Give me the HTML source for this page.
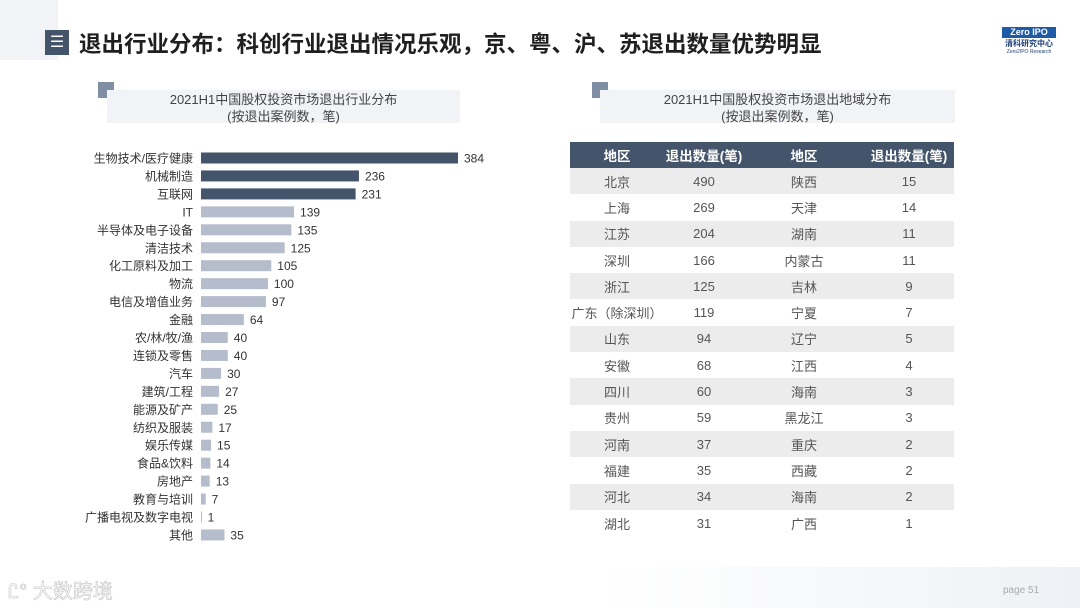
<!DOCTYPE html>
<html><head><meta charset="utf-8"><style>
body{margin:0;width:1080px;height:608px;overflow:hidden;background:#fff;font-family:"Liberation Sans","Noto Sans CJK SC",sans-serif;position:relative}
.abs{position:absolute}
#tbl{position:absolute;left:570px;top:142px;width:384px;border-collapse:collapse;font-size:13px;color:#555;table-layout:fixed}
#tbl th{background:#44546a;color:#fff;height:26px;font-weight:bold;font-size:13.5px;padding:0}
#tbl td{height:26.3px;padding:0;text-align:center;white-space:nowrap}
#tbl tr.g td{background:#ececec}
</style></head><body>
<div class="abs" style="left:0;top:0;width:58px;height:60px;background:#f1f3f6"></div>
<div class="abs" style="left:45px;top:30px;width:24px;height:25px;background:#44546a;color:#fff;font-size:16px;line-height:25px;text-align:center">☰</div>
<div class="abs" style="left:79px;top:27px;font-size:22.5px;font-weight:bold;color:#1f1f1f;white-space:nowrap">退出行业分布：科创行业退出情况乐观，京、粤、沪、苏退出数量优势明显</div>
<div class="abs" style="left:1002px;top:27px;width:54px;text-align:center">
<div style="background:#1f5aa6;color:#fff;font-size:9px;font-weight:bold;width:54px;height:11px;line-height:11px">Zero IPO</div>
<div style="color:#1f3f7a;font-size:8px;font-weight:bold">清科研究中心</div>
<div style="color:#1f3f7a;font-size:5px">Zero2IPO Research</div></div>

<div class="abs" style="left:98px;top:82px;width:16px;height:16px;background:#7f8ea3"></div>
<div class="abs" style="left:107px;top:90px;width:353px;height:33px;background:#f1f3f6;text-align:center;font-size:13px;color:#444;line-height:17px;padding-top:1px;box-sizing:border-box">2021H1中国股权投资市场退出行业分布<br>(按退出案例数，笔)</div>
<div class="abs" style="left:592px;top:82px;width:16px;height:16px;background:#7f8ea3"></div>
<div class="abs" style="left:600px;top:90px;width:355px;height:33px;background:#f1f3f6;text-align:center;font-size:13px;color:#444;line-height:17px;padding-top:1px;box-sizing:border-box">2021H1中国股权投资市场退出地域分布<br>(按退出案例数，笔)</div>

<svg id="chart" class="abs" style="left:0;top:140px" width="520" height="410"></svg>

<table id="tbl">
<colgroup><col style="width:94px"><col style="width:80px"><col style="width:120px"><col style="width:90px"></colgroup>
<tr><th>地区</th><th>退出数量(笔)</th><th>地区</th><th>退出数量(笔)</th></tr>
<tr class="g"><td>北京</td><td>490</td><td>陕西</td><td>15</td></tr>
<tr><td>上海</td><td>269</td><td>天津</td><td>14</td></tr>
<tr class="g"><td>江苏</td><td>204</td><td>湖南</td><td>11</td></tr>
<tr><td>深圳</td><td>166</td><td>内蒙古</td><td>11</td></tr>
<tr class="g"><td>浙江</td><td>125</td><td>吉林</td><td>9</td></tr>
<tr><td>广东（除深圳）</td><td>119</td><td>宁夏</td><td>7</td></tr>
<tr class="g"><td>山东</td><td>94</td><td>辽宁</td><td>5</td></tr>
<tr><td>安徽</td><td>68</td><td>江西</td><td>4</td></tr>
<tr class="g"><td>四川</td><td>60</td><td>海南</td><td>3</td></tr>
<tr><td>贵州</td><td>59</td><td>黑龙江</td><td>3</td></tr>
<tr class="g"><td>河南</td><td>37</td><td>重庆</td><td>2</td></tr>
<tr><td>福建</td><td>35</td><td>西藏</td><td>2</td></tr>
<tr class="g"><td>河北</td><td>34</td><td>海南</td><td>2</td></tr>
<tr><td>湖北</td><td>31</td><td>广西</td><td>1</td></tr>
</table>

<div class="abs" style="left:600px;top:567px;width:480px;height:41px;background:linear-gradient(90deg,#fff,#eef1f5)"></div>
<div class="abs" style="left:8px;top:575px;font-size:20px;color:#fff;-webkit-text-stroke:0.6px #c4c4c4">Ꮭ° 大数跨境</div>
<div class="abs" style="left:1003px;top:585px;font-size:10px;color:#aaa">page  51</div>

<script>
const categories=["生物技术/医疗健康","机械制造","互联网","IT","半导体及电子设备","清洁技术","化工原料及加工","物流","电信及增值业务","金融","农/林/牧/渔","连锁及零售","汽车","建筑/工程","能源及矿产","纺织及服装","娱乐传媒","食品&饮料","房地产","教育与培训","广播电视及数字电视","其他"];
const values=[384,236,231,139,135,125,105,100,97,64,40,40,30,27,25,17,15,14,13,7,1,35];
const darkCount=3;
const svg=document.getElementById('chart');
const NS='http://www.w3.org/2000/svg';
const x0=201, scale=(458-201)/384;
const y=i=>18+i*17.95;
const xw=v=>v*scale;
categories.forEach((c,i)=>{
  const t=document.createElementNS(NS,'text');
  
  
  t.setAttribute('x',193);t.setAttribute('y',y(i)+4.5);t.setAttribute('text-anchor','end');
  t.setAttribute('font-size','12');t.setAttribute('fill','#333');t.textContent=c;svg.appendChild(t);
  const r=document.createElementNS(NS,'rect');
  
  
  r.setAttribute('x',x0);r.setAttribute('y',y(i)-5.5);r.setAttribute('width',Math.max(xw(values[i]),1));r.setAttribute('height',11);
  r.setAttribute('fill',i<darkCount?'#44546a':'#b5bccb');svg.appendChild(r);
  const v=document.createElementNS(NS,'text');
  
  
  v.setAttribute('x',x0+xw(values[i])+6);v.setAttribute('y',y(i)+4.5);v.setAttribute('font-size','12');v.setAttribute('fill','#333');
  v.textContent=values[i];svg.appendChild(v);
});
</script>
</body></html>
